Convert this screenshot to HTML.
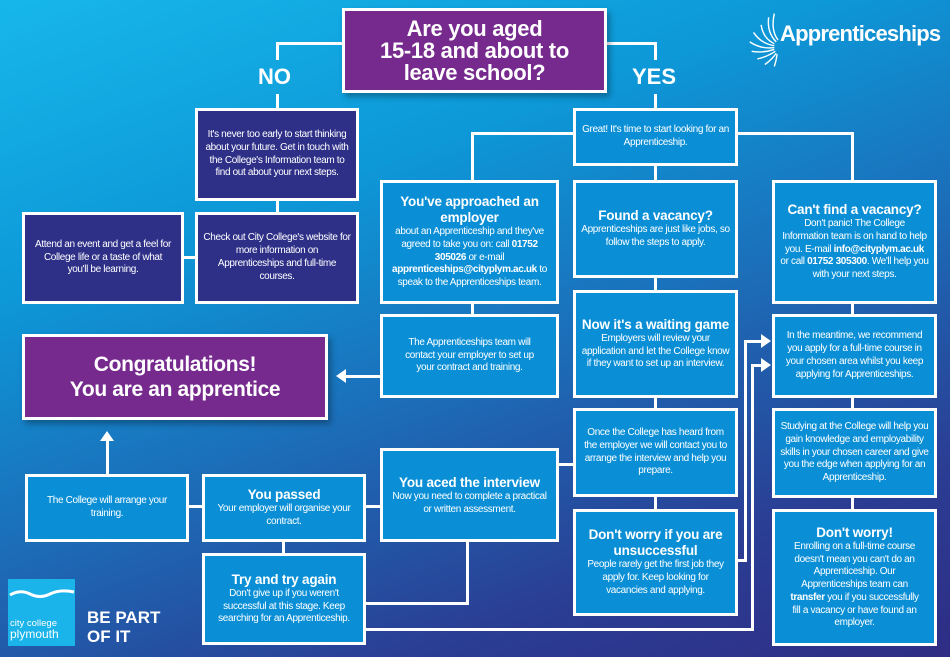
<!DOCTYPE html>
<html><head><meta charset="utf-8"><style>
*{box-sizing:border-box;margin:0;padding:0}
body{width:950px;height:657px;overflow:hidden;position:relative;font-family:"Liberation Sans",sans-serif;color:#fff;
background:linear-gradient(160deg,#17b7ea 0%,#0d98d8 30%,#1c6db8 55%,#2a3e94 80%,#2f2d84 100%)}
.b{position:absolute;border:3px solid #fff;background:#0a8fd6;display:flex;flex-direction:column;justify-content:center;align-items:center;text-align:center;font-size:10px;line-height:12.8px;padding:2px 5px;letter-spacing:-0.35px}
.b>div{width:100%}
.n{background:#2e3088}
.p{background:#762a8e;font-weight:bold;box-shadow:3px 4px 6px rgba(0,0,0,.3)}
.b h{display:block;font-weight:bold;font-size:13.5px;line-height:16px;letter-spacing:-0.2px}
.l{position:absolute;background:#fff}
.t{position:absolute;font-weight:bold}
.ar{position:absolute;width:0;height:0}
</style></head><body>
<!-- lines -->
<div class="l" style="left:276px;top:42px;width:68px;height:3px"></div>
<div class="l" style="left:276px;top:42px;width:3px;height:18px"></div>
<div class="l" style="left:276px;top:94px;width:3px;height:16px"></div>
<div class="l" style="left:605px;top:42px;width:52px;height:3px"></div>
<div class="l" style="left:654px;top:42px;width:3px;height:18px"></div>
<div class="l" style="left:654px;top:94px;width:3px;height:16px"></div>
<div class="l" style="left:471px;top:132px;width:104px;height:3px"></div>
<div class="l" style="left:471px;top:132px;width:3px;height:50px"></div>
<div class="l" style="left:735px;top:132px;width:118px;height:3px"></div>
<div class="l" style="left:851px;top:132px;width:3px;height:50px"></div>
<div class="l" style="left:654px;top:163px;width:3px;height:19px"></div>
<div class="l" style="left:276px;top:198px;width:3px;height:16px"></div>
<div class="l" style="left:181px;top:256px;width:16px;height:3px"></div>
<div class="l" style="left:471px;top:301px;width:3px;height:15px"></div>
<div class="l" style="left:654px;top:275px;width:3px;height:17px"></div>
<div class="l" style="left:851px;top:301px;width:3px;height:15px"></div>
<div class="l" style="left:654px;top:396px;width:3px;height:14px"></div>
<div class="l" style="left:851px;top:396px;width:3px;height:14px"></div>
<div class="l" style="left:654px;top:494px;width:3px;height:17px"></div>
<div class="l" style="left:851px;top:495px;width:3px;height:16px"></div>
<div class="l" style="left:556px;top:463px;width:19px;height:3px"></div>
<div class="l" style="left:344px;top:375px;width:38px;height:3px"></div>
<div class="ar" style="left:336px;top:369px;border-right:10px solid #fff;border-top:7px solid transparent;border-bottom:7px solid transparent"></div>
<div class="l" style="left:106px;top:440px;width:3px;height:36px"></div>
<div class="ar" style="left:100px;top:431px;border-bottom:10px solid #fff;border-left:7px solid transparent;border-right:7px solid transparent"></div>
<div class="l" style="left:186px;top:505px;width:18px;height:3px"></div>
<div class="l" style="left:363px;top:505px;width:19px;height:3px"></div>
<div class="l" style="left:282px;top:539px;width:3px;height:16px"></div>
<div class="l" style="left:363px;top:602px;width:106px;height:3px"></div>
<div class="l" style="left:466px;top:539px;width:3px;height:66px"></div>
<div class="l" style="left:363px;top:628px;width:391px;height:3px"></div>
<div class="l" style="left:751px;top:364px;width:3px;height:67px"></div>
<div class="l" style="left:751px;top:364px;width:12px;height:3px"></div>
<div class="l" style="left:751px;top:431px;width:3px;height:200px"></div>
<div class="ar" style="left:761px;top:358px;border-left:10px solid #fff;border-top:7px solid transparent;border-bottom:7px solid transparent"></div>
<div class="l" style="left:735px;top:559px;width:12px;height:3px"></div>
<div class="l" style="left:744px;top:340px;width:3px;height:222px"></div>
<div class="l" style="left:744px;top:340px;width:19px;height:3px"></div>
<div class="ar" style="left:761px;top:334px;border-left:10px solid #fff;border-top:7px solid transparent;border-bottom:7px solid transparent"></div>

<!-- title -->
<div class="b p" style="left:342px;top:8px;width:265px;height:85px;font-size:22px;line-height:22px;letter-spacing:-0.3px"><div>Are you aged<br>15-18 and about to<br>leave school?</div></div>
<div class="t" style="left:258px;top:64px;font-size:22px">NO</div>
<div class="t" style="left:632px;top:64px;font-size:22px">YES</div>
<div class="t" style="left:780px;top:21px;font-size:22px;letter-spacing:-0.8px">Apprenticeships</div>
<svg style="position:absolute;left:746px;top:10px" width="34" height="60" viewBox="0 0 36 60" fill="none" stroke="#fff" stroke-width="1.5"><path d="M30 2 Q26 20 34 30"/><path d="M24 6 Q22 22 32 32"/><path d="M16 14 Q18 28 30 34"/><path d="M8 22 Q16 34 30 36"/><path d="M4 32 Q16 40 30 38"/><path d="M6 42 Q18 44 30 40"/><path d="M12 50 Q22 48 31 42"/><path d="M20 56 Q28 50 32 44"/><path d="M30 58 Q32 52 33 45"/></svg>

<!-- NO side -->
<div class="b n" style="left:195px;top:108px;width:164px;height:93px"><div>It's never too early to start thinking about your future. Get in touch with the College's Information team to find out about your next steps.</div></div>
<div class="b n" style="left:22px;top:212px;width:162px;height:92px;padding:2px 8px"><div>Attend an event and get a feel for College life or a taste of what you'll be learning.</div></div>
<div class="b n" style="left:195px;top:212px;width:164px;height:92px"><div>Check out City College's website for more information on Apprenticeships and full-time courses.</div></div>

<!-- YES side -->
<div class="b" style="left:573px;top:108px;width:165px;height:58px"><div>Great! It's time to start looking for an Apprenticeship.</div></div>
<div class="b" style="left:380px;top:180px;width:179px;height:124px"><div><h>You've approached an employer</h>about an Apprenticeship and they've agreed to take you on: call <b>01752 305026</b> or e-mail <b>apprenticeships@cityplym.ac.uk</b> to speak to the Apprenticeships team.</div></div>
<div class="b" style="left:573px;top:180px;width:165px;height:98px"><div><h>Found a vacancy?</h>Apprenticeships are just like jobs, so follow the steps to apply.</div></div>
<div class="b" style="left:772px;top:180px;width:165px;height:124px"><div><h>Can't find a vacancy?</h>Don't panic! The College Information team is on hand to help you. E-mail <b>info@cityplym.ac.uk</b> or call <b>01752 305300</b>. We'll help you with your next steps.</div></div>
<div class="b" style="left:573px;top:290px;width:165px;height:108px"><div><h>Now it's a waiting game</h>Employers will review your application and let the College know if they want to set up an interview.</div></div>
<div class="b" style="left:380px;top:314px;width:179px;height:84px;padding:2px 14px"><div>The Apprenticeships team will contact your employer to set up your contract and training.</div></div>
<div class="b" style="left:772px;top:314px;width:165px;height:84px"><div>In the meantime, we recommend you apply for a full-time course in your chosen area whilst you keep applying for Apprenticeships.</div></div>
<div class="b p" style="left:22px;top:334px;width:306px;height:86px;font-size:21px;line-height:25px"><div>Congratulations!<br>You are an apprentice</div></div>
<div class="b" style="left:573px;top:408px;width:165px;height:89px"><div>Once the College has heard from the employer we will contact you to arrange the interview and help you prepare.</div></div>
<div class="b" style="left:772px;top:408px;width:165px;height:90px"><div>Studying at the College will help you gain knowledge and employability skills in your chosen career and give you the edge when applying for an Apprenticeship.</div></div>
<div class="b" style="left:380px;top:448px;width:179px;height:94px;justify-content:flex-start;padding-top:24px"><div><h>You aced the interview</h>Now you need to complete a practical or written assessment.</div></div>
<div class="b" style="left:25px;top:474px;width:164px;height:68px;padding:2px 18px"><div>The College will arrange your training.</div></div>
<div class="b" style="left:202px;top:474px;width:164px;height:68px"><div><h>You passed</h>Your employer will organise your contract.</div></div>
<div class="b" style="left:573px;top:509px;width:165px;height:107px"><div><h>Don't worry if you are unsuccessful</h>People rarely get the first job they apply for. Keep looking for vacancies and applying.</div></div>
<div class="b" style="left:772px;top:509px;width:165px;height:137px;padding:2px 14px"><div><h>Don't worry!</h>Enrolling on a full-time course doesn't mean you can't do an Apprenticeship. Our Apprenticeships team can <b>transfer</b> you if you successfully fill a vacancy or have found an employer.</div></div>
<div class="b" style="left:202px;top:553px;width:164px;height:92px"><div><h>Try and try again</h>Don't give up if you weren't successful at this stage. Keep searching for an Apprenticeship.</div></div>

<!-- logo -->
<div style="position:absolute;left:8px;top:579px;width:67px;height:67px;background:#1ab3ea">
<svg style="position:absolute;left:0;top:10px" width="67" height="12"><path d="M2 6 Q12 0 22 5 T42 5 T66 3" stroke="#fff" stroke-width="3" fill="none"/></svg>
<div style="position:absolute;left:2px;top:40px;font-size:9.5px;line-height:10px">city college<br><span style="font-size:12px">plymouth</span></div>
</div>
<div class="t" style="left:87px;top:608px;font-size:17px;line-height:19px">BE PART<br>OF IT</div>
</body></html>
